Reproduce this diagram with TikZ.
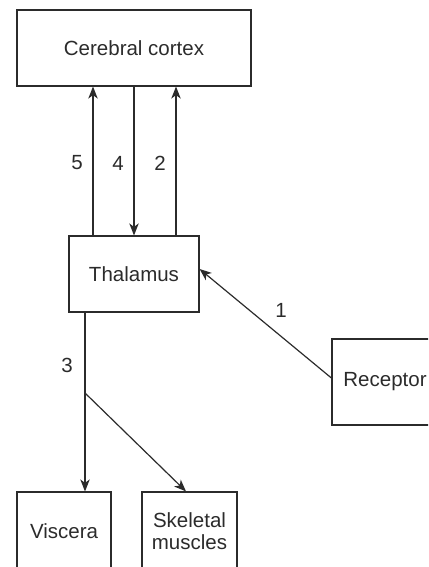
\documentclass[tikz,border=0pt]{standalone}
\usepackage{fontspec}
\setmainfont{Liberation Sans}
\usetikzlibrary{arrows.meta}
\definecolor{ink}{HTML}{2B2B2B}

\begin{document}
\begin{tikzpicture}[x = 1pt, y = -1pt]
\tikzstyle{BoxStyle}=[
shape = rectangle,
draw = ink,
line width = 1.2pt,
text = ink,
inner sep = 2pt,
font = \fontsize{20.5}{24}\selectfont]
\tikzstyle{LabelStyle}=[
text = ink,
inner sep = 0pt,
font = \fontsize{20.5}{24}\selectfont]
\tikzstyle{post}=[
draw = ink,
line width = 1.2pt,
-{Stealth[length = 12pt, width = 9.5pt, inset = 3.5pt]}]
\useasboundingbox (0,0) rectangle (428,567);
\clip (0,0) rectangle (428,567);
\node[BoxStyle, minimum width = 234pt, minimum height = 76pt] (cortex) at (134,48) {Cerebral cortex};
\node[BoxStyle, minimum width = 130pt, minimum height = 76pt] (thalamus) at (134,274) {Thalamus};
\node[BoxStyle, minimum width = 106pt, minimum height = 86pt] (receptor) at (385,382) {Receptor};
\node[BoxStyle, minimum width = 94pt, minimum height = 78pt] (viscera) at (64,531) {Viscera};
\node[BoxStyle, minimum width = 95pt, minimum height = 78pt, align = center] (skeletal) at (189.5,531) {Skeletal\\[-2pt]muscles};
\coordinate (fork) at (85,393);
\draw[post] ([xshift = -41pt]thalamus.north) -- ([xshift = -41pt]cortex.south);
\draw[post] (cortex.south) -- (thalamus.north);
\draw[post] ([xshift = 42pt]thalamus.north) -- ([xshift = 42pt]cortex.south);
\draw[post] ([yshift = 4pt]receptor.west) -- ([yshift = 5pt]thalamus.east);
\draw[post] ([xshift = -49pt]thalamus.south) -- ([xshift = 21pt]viscera.north);
\draw[post] (fork) -- ([xshift = -3.5pt]skeletal.north);
\node[LabelStyle] (lbl5) at (77,163) {5};
\node[LabelStyle] (lbl4) at (118,163) {4};
\node[LabelStyle] (lbl2) at (160,163) {2};
\node[LabelStyle] (lbl1) at (281,310) {1};
\node[LabelStyle] (lbl3) at (67,365) {3};
\end{tikzpicture}
\end{document}
